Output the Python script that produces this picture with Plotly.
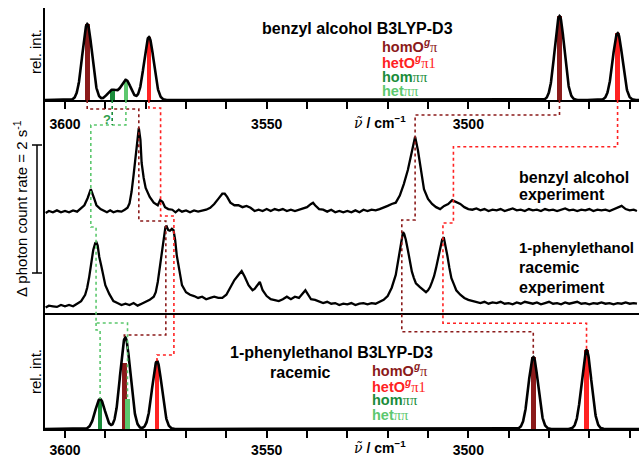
import numpy as np
import plotly.graph_objects as go

# ---------------- data ----------------
# theory sticks (wavenumber cm^-1, relative intensity), benzyl alcohol B3LYP-D3
ba_homOg_nu = [3594.5, 3477.4]
ba_homOg_int = [76, 84]
ba_hetOg_nu = [3579.2, 3463.0]
ba_hetOg_int = [63, 67]
ba_hompp_nu = [3588.3]
ba_hompp_int = [10]
ba_hetpp_nu = [3584.9]
ba_hetpp_int = [20]

# theory sticks, 1-phenylethanol racemic B3LYP-D3
pe_homOg_nu = [3585.3, 3483.9]
pe_homOg_int = [66, 72]
pe_hetOg_nu = [3577.2, 3470.7]
pe_hetOg_int = [68, 79]
pe_hompp_nu = [3591.3]
pe_hompp_int = [30]
pe_hetpp_nu = [3584.5]
pe_hetpp_int = [30]

# experimental band positions used for the assignment lines
ba_exp_homOg = [3581.7, 3513.2]
ba_exp_hetOg = [3576.3, 3503.7]
ba_exp_pp = [3593.6]
pe_exp_homOg = [3575.0, 3516.5]
pe_exp_hetOg = [3573.0, 3506.3]
pe_exp_pp = [3592.3]

# experiment: benzyl alcohol (delta photon count rate, s^-1)
ba_exp_nu = [3604.8, 3604, 3603, 3602, 3601, 3600, 3599, 3598, 3597, 3596.2, 3595.2, 3594.4, 3593.6,
             3592.8, 3592.2, 3591.2, 3590.4, 3589.6, 3588.8, 3588, 3587, 3586, 3585.2, 3584.5, 3584,
             3583.5, 3583, 3582.5, 3582, 3581.7, 3581.3, 3581, 3580.5, 3580, 3579, 3578, 3577, 3576.4,
             3575.8, 3575.2, 3574.4, 3573.4, 3572.6, 3571.8, 3571, 3570, 3569, 3568, 3567, 3566, 3565,
             3564, 3563, 3562, 3561, 3560.4, 3559.8, 3559, 3558, 3557, 3556, 3555, 3554, 3553, 3552,
             3551, 3550, 3549, 3548, 3547, 3546, 3545, 3544, 3543, 3542, 3541, 3540, 3539, 3538.5, 3538,
             3537, 3536, 3535, 3534, 3533, 3532, 3531, 3530, 3529, 3528, 3527, 3526, 3525, 3524, 3523,
             3522, 3521, 3520, 3519, 3518, 3517, 3516, 3515, 3514, 3513.2, 3512.5, 3512, 3511, 3510,
             3509, 3508, 3507, 3506, 3505, 3504, 3503, 3502, 3501, 3500, 3499, 3498, 3497, 3496, 3495,
             3494, 3493, 3492, 3491, 3490, 3489, 3488, 3487, 3486, 3485, 3484, 3483, 3482, 3481, 3480,
             3479, 3478, 3477, 3476, 3475, 3474, 3473, 3472, 3471, 3470, 3469, 3468, 3467, 3466, 3465,
             3464, 3463, 3462, 3461, 3460, 3459, 3458.2]
ba_exp_sig = [-0.03, 0.0, -0.02, 0.01, -0.02, 0.0, -0.02, 0.01, -0.01, 0.03, 0.09, 0.20, 0.34,
              0.20, 0.09, 0.03, 0.0, -0.02, 0.01, -0.02, 0.0, -0.01, 0.02, 0.05, 0.12,
              0.30, 0.56, 0.88, 1.19, 1.30, 1.11, 0.75, 0.52, 0.36, 0.22, 0.13, 0.09, 0.17,
              0.14, 0.06, 0.03, 0.02, -0.02, 0.02, -0.01, 0.01, -0.02, 0.01, -0.01, 0.0, 0.02,
              0.05, 0.11, 0.19, 0.27, 0.27, 0.22, 0.13, 0.09, 0.09, 0.06, 0.08, 0.05, 0.0, 0.02,
              0.0, 0.03, 0.0, 0.03, 0.01, 0.03, 0.0, 0.02, 0.0, 0.02, 0.03, 0.06, 0.11, 0.13, 0.09,
              0.03, 0.02, -0.01, 0.02, -0.02, 0.0, -0.02, 0.0, -0.02, 0.01, -0.02, 0.02, 0.0, 0.02, 0.01,
              0.03, 0.05, 0.08, 0.11, 0.13, 0.24, 0.42, 0.64, 0.92, 1.16, 0.95, 0.75, 0.34, 0.19,
              0.11, 0.06, 0.03, 0.08, 0.11, 0.17, 0.14, 0.11, 0.06, 0.03, 0.02, 0.04, 0.01, 0.03, 0.0,
              0.02, 0.01, 0.03, 0.0, 0.02, 0.04, 0.01, 0.02, 0.0, 0.03, 0.01, 0.02, 0.0, 0.03, 0.01,
              0.02, 0.0, 0.02, 0.04, 0.01, 0.02, 0.0, 0.02, 0.01, 0.03, 0.0, 0.02, 0.01, 0.02, 0.0,
              0.03, 0.06, 0.08, 0.03, 0.01, 0.02, 0.0]

# experiment: 1-phenylethanol racemic
pe_exp_nu = [3604.8, 3604, 3603, 3602, 3601, 3600, 3599, 3598, 3597, 3596, 3595, 3594.5, 3594, 3593.5,
             3593, 3592.5, 3592.2, 3591.9, 3591.5, 3591, 3590.5, 3590, 3589, 3588, 3587, 3586, 3585,
             3584, 3583, 3582, 3581, 3580, 3579, 3578, 3577.5, 3577, 3576.5, 3576, 3575.5, 3575.1,
             3574.8, 3574.4, 3574, 3573.5, 3573.1, 3572.7, 3572.3, 3572, 3571.5, 3571, 3570, 3569,
             3568, 3567, 3566, 3565, 3564, 3563, 3562, 3561, 3560, 3559, 3558, 3557, 3556.2, 3555.5,
             3555, 3554.5, 3554, 3553.5, 3553, 3552.5, 3552, 3551.7, 3551, 3550, 3549, 3548, 3547,
             3546, 3545, 3544, 3543, 3542, 3541, 3540.4, 3540, 3539, 3538, 3537, 3536, 3535, 3534,
             3533, 3532, 3531, 3530, 3529, 3528, 3527, 3526, 3525, 3524, 3523, 3522, 3521, 3520,
             3519, 3518, 3517.5, 3517, 3516.5, 3516.2, 3515.9, 3515.5, 3515, 3514.5, 3514, 3513.5,
             3513, 3512, 3511, 3510.5, 3510, 3509.5, 3509, 3508.5, 3508, 3507.5, 3507, 3506.5, 3506.1,
             3505.7, 3505.2, 3504.7, 3504.2, 3503.5, 3503, 3502, 3501, 3500, 3499, 3498, 3497, 3496,
             3495, 3494, 3493, 3492, 3491, 3490, 3489, 3488, 3487, 3486, 3485, 3484, 3483, 3482,
             3481, 3480, 3479, 3478, 3477, 3476, 3475, 3474, 3473, 3472, 3471, 3470, 3469, 3468,
             3467, 3466, 3465, 3464, 3463, 3462, 3461, 3460, 3459, 3458.2]
pe_exp_sig = [-0.04, -0.01, -0.02, -0.03, 0.0, -0.02, 0.0, -0.02, 0.02, 0.06, 0.16, 0.27, 0.44, 0.67,
              0.86, 0.97, 0.98, 0.93, 0.75, 0.61, 0.45, 0.31, 0.17, 0.06, 0.03, 0.0, 0.02,
              0.0, 0.03, -0.01, 0.02, 0.05, 0.08, 0.13, 0.20, 0.36, 0.58, 0.83, 1.08, 1.22,
              1.23, 1.17, 1.16, 1.19, 1.17, 1.02, 0.78, 0.67, 0.45, 0.31, 0.20, 0.16,
              0.14, 0.11, 0.13, 0.09, 0.11, 0.13, 0.11, 0.11, 0.16, 0.27, 0.39, 0.47, 0.53, 0.45,
              0.38, 0.31, 0.27, 0.23, 0.25, 0.30, 0.34, 0.36, 0.23, 0.14, 0.09, 0.08, 0.06,
              0.09, 0.13, 0.09, 0.13, 0.11, 0.19, 0.23, 0.19, 0.09, 0.08, 0.06, 0.03, 0.05, 0.02,
              0.03, 0.0, 0.02, 0.01, 0.03, 0.0, 0.02, 0.03, 0.01, 0.03, 0.02, 0.05, 0.08, 0.14,
              0.27, 0.47, 0.67, 0.86, 1.08, 1.14, 1.11, 1.02, 0.86, 0.67, 0.52, 0.42,
              0.34, 0.28, 0.23, 0.20, 0.23, 0.28, 0.36, 0.45, 0.58, 0.73, 0.91, 1.02, 1.06,
              0.94, 0.77, 0.58, 0.42, 0.31, 0.23, 0.16, 0.11, 0.08, 0.06, 0.05, 0.03, 0.05,
              0.02, 0.04, 0.03, 0.05, 0.02, 0.03, 0.01, 0.04, 0.02, 0.05, 0.03, 0.02, 0.04, 0.01,
              0.03, 0.05, 0.02, 0.03, 0.01, 0.04, 0.02, 0.03, 0.05, 0.02, 0.03, 0.01, 0.03, 0.02,
              0.04, 0.02, 0.03, 0.01, 0.03, 0.02, 0.04, 0.02, 0.03, 0.02]

x_ticks = [3600, 3550, 3500]

# ---------------- style / layout constants ----------------
W, H = 639, 458
ML, MR, MT, MB = 45, 0, 8, 29
PW, PH = W - ML - MR, H - MT - MB
X_RANGE = [3604.96, 3457.69]
SIGMA = 1.2
PX_PER_UNIT = 64.0
BA_OFFSET = (315 - 211) / PX_PER_UNIT
PE_OFFSET = (315 - 305) / PX_PER_UNIT

C_DRED = '#8b1a1a'
C_RED = '#ff2222'
C_DGRN = '#1a8c3a'
C_LGRN = '#5cc86e'
FONT = 'Liberation Sans'


def py(p):
    return (H - MB - p) / PH


def pxx(p):
    return (p - ML) / PW


grid = np.linspace(X_RANGE[0], X_RANGE[1], 2500)


def envelope(nus, ints):
    y = np.zeros_like(grid)
    for n, a in zip(nus, ints):
        y += a * np.exp(-(grid - n) ** 2 / (2 * SIGMA ** 2))
    return y


fig = go.Figure()


def add_sticks(nu, inten, color, xa, ya):
    fig.add_trace(go.Bar(x=nu, y=inten, width=1.15, marker=dict(color=color, line=dict(width=0)),
                         xaxis=xa, yaxis=ya, showlegend=False, hoverinfo='skip'))


# top panel
add_sticks(ba_homOg_nu, ba_homOg_int, C_DRED, 'x', 'y')
add_sticks(ba_hetOg_nu, ba_hetOg_int, C_RED, 'x', 'y')
add_sticks(ba_hompp_nu, ba_hompp_int, C_DGRN, 'x', 'y')
add_sticks(ba_hetpp_nu, ba_hetpp_int, C_LGRN, 'x', 'y')
ba_env = envelope(ba_homOg_nu + ba_hetOg_nu + ba_hompp_nu + ba_hetpp_nu,
                  ba_homOg_int + ba_hetOg_int + ba_hompp_int + ba_hetpp_int)
fig.add_trace(go.Scatter(x=grid, y=ba_env, mode='lines', line=dict(color='black', width=2.6),
                         xaxis='x', yaxis='y', showlegend=False, hoverinfo='skip', cliponaxis=False))

# bottom panel
add_sticks(pe_homOg_nu, pe_homOg_int, C_DRED, 'x3', 'y3')
add_sticks(pe_hetOg_nu, pe_hetOg_int, C_RED, 'x3', 'y3')
add_sticks(pe_hompp_nu, pe_hompp_int, C_DGRN, 'x3', 'y3')
add_sticks(pe_hetpp_nu, pe_hetpp_int, C_LGRN, 'x3', 'y3')
pe_env = envelope(pe_homOg_nu + pe_hetOg_nu + pe_hompp_nu + pe_hetpp_nu,
                  pe_homOg_int + pe_hetOg_int + pe_hompp_int + pe_hetpp_int)
fig.add_trace(go.Scatter(x=grid, y=pe_env, mode='lines', line=dict(color='black', width=2.6),
                         xaxis='x3', yaxis='y3', showlegend=False, hoverinfo='skip', cliponaxis=False))

# middle panel: experiments
fig.add_trace(go.Scatter(x=ba_exp_nu, y=[v + BA_OFFSET for v in ba_exp_sig], mode='lines',
                         line=dict(color='black', width=2.3), xaxis='x2', yaxis='y2',
                         showlegend=False, hoverinfo='skip'))
fig.add_trace(go.Scatter(x=pe_exp_nu, y=[v + PE_OFFSET for v in pe_exp_sig], mode='lines',
                         line=dict(color='black', width=2.3), xaxis='x2', yaxis='y2',
                         showlegend=False, hoverinfo='skip'))

# ---------------- axes ----------------
d_top = [py(100), 1]
d_mid = [py(315), py(100)]
d_bot = [0, py(315)]

xcommon = dict(range=X_RANGE, showgrid=False, zeroline=False, showline=True, linecolor='black',
               linewidth=1.5, ticks='outside', ticklen=7, tickwidth=1.5, tickcolor='black',
               tickmode='array', tickvals=x_ticks, automargin=False,
               tickfont=dict(family=FONT, size=14, color='black', weight='bold'),
               minor=dict(tickmode='linear', tick0=3500, dtick=10, ticks='outside', ticklen=7,
                          tickwidth=1.5, tickcolor='black'))
ycommon = dict(showgrid=False, zeroline=False, showline=True, linecolor='black', linewidth=1.5,
               ticks='', showticklabels=False, automargin=False)

fig.update_layout(
    width=W, height=H, margin=dict(l=ML, r=MR, t=MT, b=MB),
    paper_bgcolor='white', plot_bgcolor='white', barmode='overlay', bargap=0,
    xaxis=dict(anchor='y', domain=[0, 1], ticklabelstandoff=3, **xcommon),
    xaxis2=dict(anchor='y2', domain=[0, 1], range=X_RANGE, visible=False, matches='x'),
    xaxis3=dict(anchor='y3', domain=[0, 1], mirror=True, matches='x', ticklabelstandoff=0,
                **xcommon),
    yaxis=dict(domain=d_top, range=[0, 92], **ycommon),
    yaxis2=dict(domain=d_mid, range=[0, (315 - 100) / PX_PER_UNIT], **ycommon),
    yaxis3=dict(domain=d_bot, range=[0, 114], **ycommon),
)

# ---------------- assignment lines ----------------
def path(xs, ys_px, color):
    pts = ' L '.join(f'{x},{py(y)}' for x, y in zip(xs, ys_px))
    fig.add_shape(type='path', path='M ' + pts, xref='x', yref='paper',
                  line=dict(color=color, width=1.6, dash='dot'))


path([ba_homOg_nu[0], ba_homOg_nu[0], ba_exp_homOg[0], ba_exp_homOg[0], pe_exp_homOg[0], pe_exp_homOg[0],
      pe_homOg_nu[0], pe_homOg_nu[0]], [100, 109, 109, 221, 221, 335, 335, 338], C_DRED)
path([ba_hetOg_nu[0], ba_hetOg_nu[0], ba_exp_hetOg[0], ba_exp_hetOg[0], pe_exp_hetOg[0], pe_exp_hetOg[0],
      pe_hetOg_nu[0], pe_hetOg_nu[0]], [100, 108, 108, 216, 216, 355, 355, 362], C_RED)
path([ba_homOg_nu[1], ba_homOg_nu[1], ba_exp_homOg[1], ba_exp_homOg[1], pe_exp_homOg[1], pe_exp_homOg[1],
      pe_homOg_nu[1], pe_homOg_nu[1]], [100, 115, 115, 220, 220, 331.7, 331.7, 357], C_DRED)
path([ba_hetOg_nu[1], ba_hetOg_nu[1], ba_exp_hetOg[1], ba_exp_hetOg[1], pe_exp_hetOg[1], pe_exp_hetOg[1],
      pe_hetOg_nu[1], pe_hetOg_nu[1]], [100, 146.7, 146.7, 223, 223, 323.3, 323.3, 350], C_RED)
path([ba_hetpp_nu[0], ba_hetpp_nu[0], ba_exp_pp[0], ba_exp_pp[0], pe_exp_pp[0], pe_exp_pp[0],
      pe_hetpp_nu[0], pe_hetpp_nu[0]], [100, 125, 125, 227, 227, 323, 323, 399], C_LGRN)
path([ba_hompp_nu[0], ba_hompp_nu[0]], [100, 125], C_DGRN)
path([pe_exp_pp[0], pe_exp_pp[0], pe_hompp_nu[0], pe_hompp_nu[0]], [323, 330, 330, 399], C_LGRN)

# scale bar (2 s^-1)
sb_x = pxx(37)
sb0 = (315 - 273) / PX_PER_UNIT
fig.add_shape(type='line', xref='paper', yref='y2', x0=sb_x, x1=sb_x, y0=sb0, y1=sb0 + 2,
              line=dict(color='black', width=1.5))
for yy in (sb0, sb0 + 2):
    fig.add_shape(type='line', xref='paper', yref='y2', x0=pxx(32), x1=pxx(42), y0=yy, y1=yy,
                  line=dict(color='black', width=1.5))

# ---------------- texts ----------------
def txt(s, x, y, size=14, color='black', bold=True, xanchor='center', angle=0, family=FONT):
    fig.add_annotation(text=s, x=pxx(x), y=py(y), xref='paper', yref='paper', showarrow=False,
                       xanchor=xanchor, yanchor='middle', textangle=angle,
                       font=dict(family=family, size=size, color=color,
                                 weight='bold' if bold else 'normal'))


pi = "<span style='font-family:Liberation Serif;font-weight:normal'>π</span>"
one = "<span style='font-family:Liberation Serif;font-weight:normal'>1</span>"
lab_homOg = "homO<sup><i>g</i></sup>" + pi
lab_hetOg = "hetO<sup><i>g</i></sup>" + pi + one
lab_hompp = "hom" + pi + pi
lab_hetpp = "het" + pi + pi

txt('benzyl alcohol B3LYP-D3', 357, 28, size=16)
for lab, c, yy in [(lab_homOg, C_DRED, 46), (lab_hetOg, C_RED, 62), (lab_hompp, C_DGRN, 77),
                   (lab_hetpp, C_LGRN, 91)]:
    txt(lab, 380, yy, size=14.5, color=c, xanchor='left')

txt('1-phenylethanol B3LYP-D3', 331, 352, size=16)
txt('racemic', 300, 372, size=16)
for lab, c, yy in [(lab_homOg, C_DRED, 370), (lab_hetOg, C_RED, 386), (lab_hompp, C_DGRN, 400),
                   (lab_hetpp, C_LGRN, 415)]:
    txt(lab, 370, yy, size=14.5, color=c, xanchor='left')

for s, yy, fs in [('benzyl alcohol', 177, 16), ('experiment', 194, 16), ('1-phenylethanol', 247, 15),
                  ('racemic', 267, 16), ('experiment', 287, 16)]:
    txt(s, 517, yy, size=fs, xanchor='left')

txt('?', 107, 119, size=13, color='#2e9e4a')

# axis titles
nu_title = ("<span style='font-family:DejaVu Serif;font-weight:normal'><i>ν\u0303</i></span>"
            " / cm<sup>−1</sup>")
txt(nu_title, 352, 122, size=14, xanchor='left')
txt(nu_title, 352, 447, size=14, xanchor='left')

txt('rel. int.', 35, 52, size=15, bold=False, angle=-90)
txt('rel. int.', 35, 372, size=15, bold=False, angle=-90)
txt('Δ photon count rate = 2 s<sup>-1</sup>', 20, 209, size=15, bold=False, angle=-90)

fig.write_html('out.html', config={'displayModeBar': False},
               post_script="document.body.style.margin='0';")
